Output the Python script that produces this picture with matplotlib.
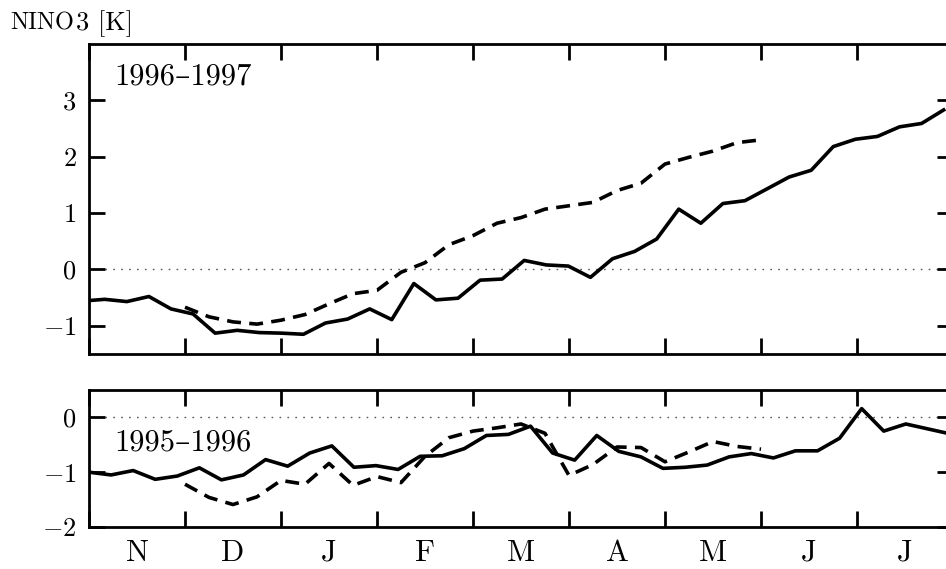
import numpy as np
import matplotlib
matplotlib.use('Agg')
import matplotlib.pyplot as plt

plt.rcParams['font.family'] = ['cmr10', 'DejaVu Serif']
plt.rcParams['mathtext.fontset'] = 'cm'
plt.rcParams['lines.scale_dashes'] = False

DAYS_PER_MONTH = 30.44
months = ['N', 'D', 'J', 'F', 'M', 'A', 'M', 'J', 'J']

# 1996-1997: weekly observations, first one 2 days before 1 Nov
obs97_day0 = -2
obs97 = [-0.56, -0.53, -0.57, -0.48, -0.70, -0.79, -1.13, -1.08, -1.12, -1.13,
         -1.15, -0.95, -0.88, -0.70, -0.89, -0.25, -0.54, -0.51, -0.19, -0.17,
         0.16, 0.08, 0.06, -0.14, 0.19, 0.32, 0.54, 1.07, 0.82, 1.17,
         1.22, 1.43, 1.64, 1.76, 2.18, 2.31, 2.36, 2.53, 2.59, 2.83]
# forecast, four values per month from 1 Dec
fc97 = [-0.67, -0.84, -0.93, -0.97, -0.90, -0.80, -0.61, -0.43, -0.37, -0.05,
        0.12, 0.44, 0.60, 0.82, 0.92, 1.07, 1.13, 1.19, 1.40, 1.53,
        1.87, 1.99, 2.10, 2.25, 2.30]

# 1995-1996
obs96_day0 = 0
obs96 = [-1.00, -1.05, -0.97, -1.13, -1.07, -0.92, -1.14, -1.05, -0.77, -0.89,
         -0.65, -0.52, -0.91, -0.88, -0.95, -0.71, -0.70, -0.57, -0.33, -0.31,
         -0.16, -0.65, -0.78, -0.33, -0.62, -0.72, -0.93, -0.91, -0.87, -0.72,
         -0.66, -0.74, -0.61, -0.61, -0.38, 0.16, -0.25, -0.12, -0.21, -0.30]
fc96 = [-1.22, -1.46, -1.59, -1.45, -1.15, -1.22, -0.84, -1.24, -1.08, -1.19,
        -0.71, -0.37, -0.25, -0.19, -0.12, -0.29, -1.06, -0.86, -0.54, -0.55,
        -0.81, -0.63, -0.44, -0.53, -0.58]
fc_start = 1.0  # months after 1 Nov

def obs_x(day0, vals):
    return (day0 + 7 * np.arange(len(vals))) / DAYS_PER_MONTH

def fc_x(vals):
    return fc_start + np.arange(len(vals)) / 4.0

W, H = 946, 569
fig = plt.figure(figsize=(W / 100, H / 100), dpi=100)
ax1 = fig.add_axes([89 / W, (H - 354) / H, 864 / W, 310 / H])
ax2 = fig.add_axes([89 / W, (H - 527) / H, 864 / W, 137 / H])

LW = 2.6
DASH = [10, 6]

def style(ax, yt, ylim, season, ty):
    ax.axhline(0, color='0.35', lw=1.0, ls=(0, (1.2, 4.5)), zorder=1)
    ax.set_xlim(0, len(months))
    ax.set_ylim(*ylim)
    ax.set_xticks(np.arange(len(months) + 1))
    ax.set_xticks(np.arange(len(months)) + 0.5, minor=True)
    ax.set_xticklabels([])
    ax.set_yticks(yt)
    ax.set_yticklabels(['$%d$' % v for v in yt], fontsize=19)
    ax.tick_params(which='major', direction='in', length=11.5, width=2.0,
                   top=True, right=True, pad=9)
    ax.tick_params(which='minor', length=0)
    for s in ax.spines.values():
        s.set_linewidth(2.0)
    ax.text(0.029, ty, season, transform=ax.transAxes, fontsize=22,
            va='baseline', ha='left')

ax1.plot(obs_x(obs97_day0, obs97), obs97, color='k', lw=LW, zorder=3)
ax1.plot(fc_x(fc97), fc97, color='k', lw=LW, dashes=DASH, zorder=3)
style(ax1, [-1, 0, 1, 2, 3], (-1.5, 4.0), '1996\u20131997', 0.868)

ax2.plot(obs_x(obs96_day0, obs96), obs96, color='k', lw=LW, zorder=3)
ax2.plot(fc_x(fc96), fc96, color='k', lw=LW, dashes=DASH, zorder=3)
style(ax2, [-2, -1, 0], (-2.0, 0.5), '1995\u20131996', 0.562)
ax2.set_xticklabels(months, minor=True, fontsize=22)
ax2.tick_params(which='minor', axis='x', pad=9)

# "NINO" imitating small caps, then "3 [K]" right after it
nino = fig.text(10 / W, 1 - 30 / H, 'NINO', fontsize=17.5, va='baseline')
fig.canvas.draw()
bb = nino.get_window_extent()
fig.text((bb.x1 + 2) / W, 1 - 30 / H, '3 [K]', fontsize=19, va='baseline')

fig.savefig('out.png', dpi=100)
